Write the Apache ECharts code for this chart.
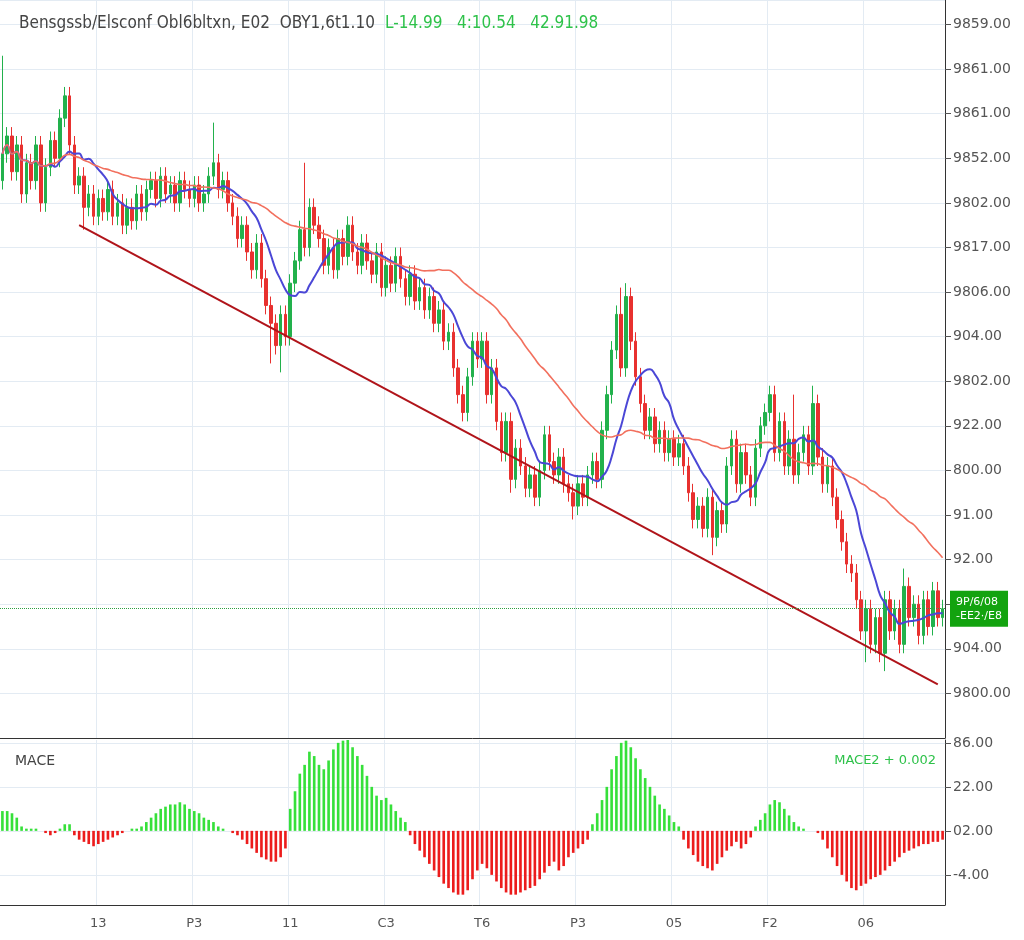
<!DOCTYPE html><html><head><meta charset="utf-8">
<script src="https://cdn.jsdelivr.net/npm/echarts@6/dist/echarts.min.js"></script>
<style>html,body{margin:0;background:#fff}#c{width:1024px;height:940px}</style></head><body><div id="c"></div>
<script>
const xLabels = {20:'13',40:'P3',60:'11',80:'C3',100:'T6',120:'P3',140:'05',160:'F2',180:'06'};
const priceTickLabels = ['9800.00','904.00','902.00','92.00','91.00','800.00','922.00','9802.00','904.00','9806.00','9817.00','9802.00','9852.00','9861.00','9861.00','9859.00'];
const macdTickLabels = {'-20':'-4.00','0':'02.00','20':'22.00','40':'86.00'};
const closes = [
9922,9926,9918,9924,9913,9920,9916,9924,9911,9919,
9925,9921,9930,9935,9924,9915,9917,9910,9913,9908,
9912,9909,9914,9908,9911,9906,9910,9907,9913,9909,
9914,9916,9912,9917,9913,9915,9911,9916,9914,9912,
9915,9911,9913,9917,9920,9914,9916,9911,9908,9903,
9906,9900,9896,9902,9894,9888,9884,9879,9886,9881,
9893,9898,9905,9901,9910,9906,9903,9897,9901,9896,
9903,9899,9906,9900,9897,9902,9898,9895,9900,9892,
9897,9893,9899,9894,9890,9895,9889,9892,9887,9890,
9884,9887,9880,9882,9874,9868,9864,9872,9880,9876,
9880,9868,9874,9862,9855,9862,9849,9856,9852,9847,
9850,9845,9851,9859,9853,9850,9854,9848,9846,9843,
9848,9845,9850,9853,9849,9860,9868,9878,9886,9874,
9890,9880,9872,9866,9860,9863,9857,9860,9855,9858,
9854,9857,9852,9846,9840,9843,9838,9845,9836,9842,
9839,9852,9858,9848,9855,9850,9845,9856,9861,9864,
9868,9855,9862,9852,9858,9850,9855,9859,9852,9866,
9854,9848,9852,9845,9840,9835,9830,9828,9822,9815,
9820,9812,9818,9810,9822,9815,9820,9812,9825,9818,
9821,9814,9822,9816,9824,9818,9820];
const firstOpen = 9916;
const highSpikes = {0:9944,14:9937,44:9929,63:9920,129:9892,130:9893,165:9868,169:9870,188:9829};
const lowSpikes = {17:9905,56:9875,58:9873,106:9846,119:9840,148:9832,180:9808,184:9806};
const macd = [
9,9,8,6,2,1,1,1,0,-1,-2,-1,1,3,3,-2,-4,-5,-6,-7,
-6,-5,-4,-3,-2,-1,0,1,1,2,4,6,8,10,11,12,12,13,12,10,
9,8,6,5,4,2,1,0,-1,-2,-4,-6,-8,-10,-12,-13,-14,-14,-12,-8,
10,18,26,30,36,34,30,28,32,37,40,41,42,38,34,30,25,20,16,14,
15,12,9,6,4,-2,-6,-9,-12,-15,-18,-21,-24,-26,-28,-29,-29,-27,-22,-18,
-15,-17,-20,-23,-26,-28,-29,-29,-28,-27,-26,-25,-22,-19,-16,-14,-18,-16,-12,-10,
-8,-6,-4,3,8,14,20,28,34,40,41,38,33,28,24,20,16,12,10,7,
4,2,-4,-8,-11,-14,-16,-17,-18,-15,-12,-9,-7,-5,-8,-6,-3,2,5,8,
12,14,13,10,7,4,2,1,0,0,-1,-4,-8,-12,-16,-20,-23,-26,-27,-25,
-24,-22,-21,-20,-18,-16,-14,-12,-10,-9,-8,-7,-6,-6,-5,-5,-4];
const trend = [[16,9906],[195,9803]];

const cats = closes.map((_,i)=>String(i));
const candles = closes.map((c,i)=>{const o=i?closes[i-1]:firstOpen;
  const hi=highSpikes[i]!==undefined?highSpikes[i]:Math.max(o,c)+2;
  const lo=lowSpikes[i]!==undefined?lowSpikes[i]:Math.min(o,c)-2;
  return [o,c,lo,hi];});
function ma(n){return closes.map((_,i)=>{const s=closes.slice(Math.max(0,i-n+1),i+1);return +(s.reduce((a,b)=>a+b,0)/s.length).toFixed(2);});}
const UP='#22b14c',DN='#e8312f',GRID='#e3ebf3';
const ch=echarts.init(document.getElementById('c'));
const last=closes[closes.length-1];
ch.setOption({animation:false,
 title:{left:14,top:10,text:'{a|Bensgssb/Elsconf Obl6bltxn, E02  OBY1,6t1.10}  {g|L-14.99   4:10.54   42.91.98}',
  textStyle:{fontWeight:'normal',rich:{a:{fontFamily:'DejaVu Sans Condensed',fontSize:17,color:'#444',fontWeight:'normal'},g:{fontFamily:'DejaVu Sans Condensed',fontSize:17,color:'#2ec24a',fontWeight:'normal'}}}},
 graphic:[{type:'text',left:15,top:754,style:{text:'MACE',font:'14px DejaVu Sans',fill:'#444'}},
          {type:'text',right:88,top:754,style:{text:'MACE2 + 0.002',font:'13px DejaVu Sans',fill:'#2ec24a'}}],
 grid:[{left:0,right:79,top:0,height:738},{left:0,right:79,top:740,height:165}],
 xAxis:[{type:'category',data:cats,gridIndex:0,boundaryGap:true,axisLine:{show:true,onZero:false,lineStyle:{color:'#333'}},axisTick:{show:false},axisLabel:{show:false},
   splitLine:{show:true,interval:(i)=>xLabels[i]!==undefined,lineStyle:{color:GRID}}},
  {type:'category',data:cats,gridIndex:1,boundaryGap:true,axisLine:{onZero:false,lineStyle:{color:'#333'}},axisTick:{show:false},
   axisLabel:{interval:(i)=>xLabels[i]!==undefined,formatter:(v)=>xLabels[v]||'',color:'#555',fontSize:13,margin:12,fontFamily:'DejaVu Sans'},
   splitLine:{show:true,interval:(i)=>xLabels[i]!==undefined,lineStyle:{color:GRID}}}],
 yAxis:[{type:'value',gridIndex:0,position:'right',min:9791,max:9956.5,interval:10,
   axisLine:{show:true,lineStyle:{color:'#333'}},axisTick:{show:true,length:6,lineStyle:{color:'#555'}},
   axisLabel:{color:'#555',fontSize:14,fontFamily:'DejaVu Sans',margin:8,showMinLabel:false,showMaxLabel:false,
     formatter:(v)=>{const k=Math.round((v-9800)/10);return priceTickLabels[k]||'';}},
   splitLine:{lineStyle:{color:GRID}}},
  {type:'value',gridIndex:1,position:'right',min:-33.7,max:41.3,
   axisLine:{show:true,lineStyle:{color:'#333'}},axisTick:{show:true,length:6,lineStyle:{color:'#555'},customValues:[-20,0,20,40]},
   axisLabel:{color:'#555',fontSize:14,fontFamily:'DejaVu Sans',margin:8,
     customValues:[-20,0,20,40],formatter:(v)=>macdTickLabels[String(Math.round(v))]||''},
   splitLine:{lineStyle:{color:GRID}}}],
 series:[
  {type:'candlestick',data:candles,barWidth:3,itemStyle:{color:UP,color0:DN,borderColor:UP,borderColor0:DN},
   markLine:{symbol:'none',silent:true,data:[{yAxis:last}],lineStyle:{color:'#2ea043',type:'dotted',width:1},
     label:{position:'end',formatter:'9P/6/08\n-EE2·/E8',color:'#fff',backgroundColor:'#13a30f',padding:[4,6],fontSize:11,lineHeight:14,fontFamily:'DejaVu Sans'}}},
  {type:'line',data:ma(10),symbol:'none',smooth:true,lineStyle:{color:'#4b47d6',width:2}},
  {type:'line',data:ma(34),symbol:'none',smooth:true,lineStyle:{color:'#f2705e',width:1.6}},
  {type:'line',data:trend.map(p=>[String(p[0]),p[1]]),symbol:['none','arrow'],symbolSize:12,lineStyle:{color:'#b0141a',width:2},itemStyle:{color:'#b0141a'}},
  {type:'bar',xAxisIndex:1,yAxisIndex:1,barWidth:'55%',data:macd.map(v=>({value:v,itemStyle:{color:v>=0?'#36e03a':'#ec1c1c'}}))}
 ]});
</script></body></html>
